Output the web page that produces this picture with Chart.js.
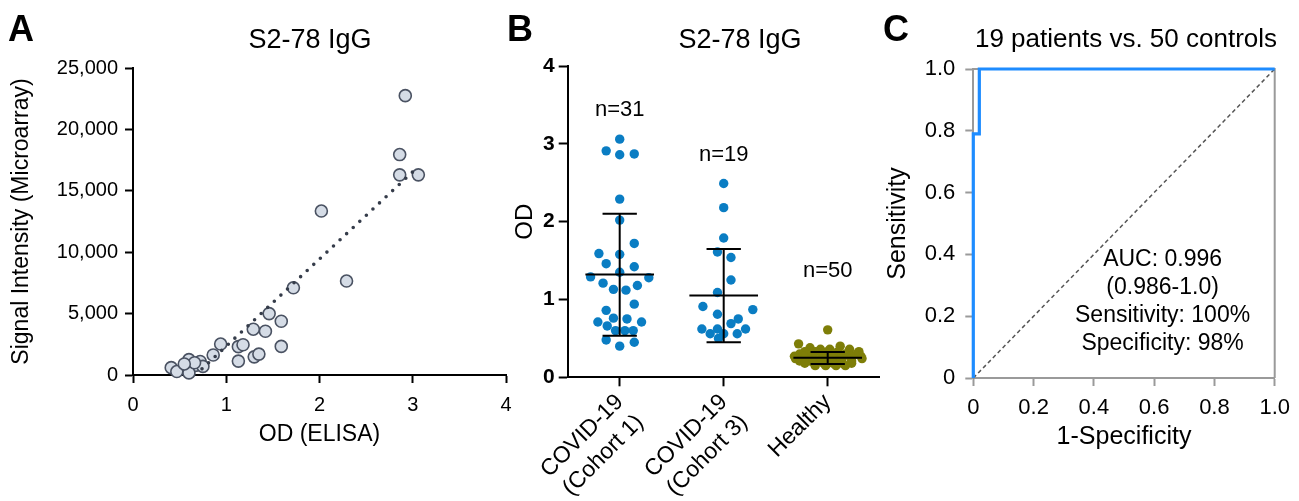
<!DOCTYPE html>
<html>
<head>
<meta charset="utf-8">
<title>S2-78 IgG</title>
<script src="https://cdn.jsdelivr.net/npm/chart.js@4.4.1/dist/chart.umd.min.js"></script>
<style>
  html, body { margin: 0; background: #fff; }
  #wrap { position: relative; width: 1299px; height: 501px; overflow: hidden; }
  #wrap canvas { position: absolute; left: 0; top: 0; }
</style>
</head>
<body>
<div id="wrap">
  <canvas id="panelA" width="1299" height="501"></canvas>
  <canvas id="panelB" width="1299" height="501"></canvas>
  <canvas id="panelC" width="1299" height="501"></canvas>
</div>
<script>
// ---- panel A: microarray vs ELISA ----
let elisaOD = [2.92, 2.86, 2.86, 3.06, 2.02, 2.29, 1.72, 1.46, 1.59, 1.42, 1.29, 1.59, 1.13, 1.18,
  0.94, 0.86, 1.13, 1.30, 1.35, 0.72, 0.60, 0.67, 0.75, 0.41, 0.47, 0.60, 0.66, 0.55];
let microarraySignal = [22750, 17950, 16300, 16300, 13350, 7650, 7100, 5000, 4380, 3560, 3730, 2330, 2310, 2460,
  2520, 1630, 1130, 1480, 1700, 1100, 1250, 780, 700, 600, 280, 170, 1000, 900];
let fitLineOD = [0.74, 3.05];
let fitLineSignal = [500, 16900];

// ---- panel B: OD per group ----
let groupLabels = [["COVID-19", "(Cohort 1)"], ["COVID-19", "(Cohort 3)"], "Healthy"];
let groupCounts = ["n=31", "n=19", "n=50"];
let countLabelY = [3.44, 2.86, 1.37];
let cohort1OD = [3.06, 2.91, 2.86, 2.87, 2.29, 2.02, 1.72, 1.59, 1.58, 1.46, 1.42, 1.29, 1.35, 1.28, 1.21, 1.18,
  1.13, 1.12, 0.94, 0.86, 0.71, 0.76, 0.75, 0.71, 0.66, 0.60, 0.60, 0.60, 0.48, 0.40, 0.45];
let cohort1Jitter = [0, -0.13, 0, 0.14, 0, 0, 0.14, -0.20, 0, -0.13, 0.14, -0.28, 0, 0.28, -0.16, 0.17,
  -0.06, 0.06, 0.14, -0.13, -0.21, -0.06, 0.07, 0.21, -0.12, -0.04, 0.05, 0.13, -0.13, 0, 0.14];
let cohort3OD = [2.49, 2.18, 1.79, 1.61, 1.54, 1.25, 1.09, 0.91, 0.81, 0.87, 0.75, 0.69, 0.62, 0.62, 0.62,
  0.56, 0.56, 0.56, 0.50];
let cohort3Jitter = [0, 0, 0, -0.06, 0.07, 0.07, -0.06, -0.20, -0.06, 0.28, 0.14, 0.07, -0.21, -0.06, 0.21,
  -0.13, 0, 0.13, -0.05];
let healthyOD = [0.61, 0.43, 0.40, 0.38, 0.36, 0.36, 0.36,
  0.33, 0.33, 0.33, 0.33, 0.33,
  0.30, 0.30, 0.30, 0.30, 0.30, 0.30,
  0.27, 0.27, 0.27, 0.27, 0.27, 0.27, 0.27, 0.27,
  0.24, 0.24, 0.24, 0.24, 0.24, 0.24, 0.24, 0.24,
  0.21, 0.21, 0.21, 0.21, 0.21, 0.21,
  0.18, 0.18, 0.18, 0.18, 0.18, 0.18,
  0.15, 0.15, 0.15, 0.15];
let healthyJitter = [0, -0.28, 0.12, -0.17, -0.07, 0.02, 0.21,
  -0.22, -0.12, 0, 0.10, 0.30,
  -0.27, -0.16, -0.05, 0.06, 0.17, 0.28,
  -0.32, -0.23, -0.14, -0.05, 0.04, 0.13, 0.22, 0.32,
  -0.31, -0.22, -0.13, -0.04, 0.05, 0.14, 0.23, 0.33,
  -0.27, -0.17, -0.07, 0.03, 0.13, 0.23,
  -0.22, -0.13, -0.04, 0.05, 0.14, 0.23,
  -0.12, -0.02, 0.08, 0.17];
let groupMean = [1.32, 1.05, 0.25];
let groupSdLow = [0.535, 0.45, 0.17];
let groupSdHigh = [2.10, 1.65, 0.325];

// ---- panel C: ROC ----
let rocFpr = [0, 0, 0.02, 0.02, 1];
let rocTpr = [0, 0.79, 0.79, 1, 1];
let chanceFpr = [0, 1];
let chanceTpr = [0, 1];
let aucText = ["AUC: 0.996", "(0.986-1.0)", "Sensitivity: 100%", "Specificity: 98%"];
let aucAnchor = [0.628, 0.384];

const FONT = '"Liberation Sans", Arial, Helvetica, sans-serif';
Chart.defaults.font.family = FONT;
Chart.defaults.color = '#000';
Chart.defaults.animation = false;
Chart.defaults.plugins.legend.display = false;
Chart.defaults.plugins.tooltip.enabled = false;

function toPoints(xs, ys) {
  return xs.map((x, i) => ({ x: x, y: ys[i] }));
}
function jittered(group, values, jitter) {
  return values.map((v, i) => ({ x: group + jitter[i], y: v }));
}

// panel letter + title
const panelText = {
  id: 'panelText',
  afterDraw(chart, args, opts) {
    let ctx = chart.ctx;
    ctx.save();
    ctx.fillStyle = '#000';
    ctx.textBaseline = 'alphabetic';
    ctx.textAlign = 'left';
    ctx.font = 'bold 36px ' + FONT;
    ctx.fillText(opts.letter, opts.letterX, 41);
    ctx.textAlign = 'center';
    ctx.font = opts.titleSize + 'px ' + FONT;
    ctx.fillText(opts.title, opts.titleX, opts.titleY);
    ctx.restore();
  }
};

// mean +/- SD bars and n labels for panel B
const errorBars = {
  id: 'errorBars',
  afterDatasetsDraw(chart) {
    let ctx = chart.ctx;
    let x = chart.scales.x, y = chart.scales.y;
    ctx.save();
    ctx.strokeStyle = '#000';
    ctx.lineWidth = 2;
    groupMean.forEach((m, i) => {
      let cx = x.getPixelForValue(i);
      let half = x.getPixelForValue(i + 0.33) - cx;
      let cap = x.getPixelForValue(i + 0.165) - cx;
      let ym = y.getPixelForValue(m);
      let yl = y.getPixelForValue(groupSdLow[i]);
      let yh = y.getPixelForValue(groupSdHigh[i]);
      ctx.beginPath();
      ctx.moveTo(cx - half, ym); ctx.lineTo(cx + half, ym);
      ctx.moveTo(cx, yl); ctx.lineTo(cx, yh);
      ctx.moveTo(cx - cap, yl); ctx.lineTo(cx + cap, yl);
      ctx.moveTo(cx - cap, yh); ctx.lineTo(cx + cap, yh);
      ctx.stroke();
    });
    ctx.fillStyle = '#000';
    ctx.font = '22px ' + FONT;
    ctx.textAlign = 'center';
    ctx.textBaseline = 'middle';
    groupCounts.forEach((t, i) => {
      ctx.fillText(t, x.getPixelForValue(i), y.getPixelForValue(countLabelY[i]));
    });
    ctx.restore();
  }
};

// grey frame and AUC text for panel C
const rocExtras = {
  id: 'rocExtras',
  beforeDatasetsDraw(chart) {
    let a = chart.chartArea, ctx = chart.ctx;
    ctx.save();
    ctx.strokeStyle = '#9a9a9a';
    ctx.lineWidth = 2;
    ctx.beginPath();
    ctx.moveTo(a.left, a.top); ctx.lineTo(a.right, a.top); ctx.lineTo(a.right, a.bottom);
    ctx.stroke();
    ctx.restore();
  },
  afterDatasetsDraw(chart) {
    let ctx = chart.ctx;
    let cx = chart.scales.x.getPixelForValue(aucAnchor[0]);
    let cy = chart.scales.y.getPixelForValue(aucAnchor[1]);
    ctx.save();
    ctx.fillStyle = '#000';
    ctx.font = '23px ' + FONT;
    ctx.textAlign = 'center';
    ctx.textBaseline = 'middle';
    aucText.forEach((t, i) => ctx.fillText(t, cx, cy + i * 28));
    ctx.restore();
  }
};

function blackAxis(tickLen) {
  return {
    grid: { drawOnChartArea: false, drawTicks: true, tickLength: tickLen, tickColor: '#000', tickWidth: 2 },
    border: { display: true, color: '#000', width: 2 }
  };
}

// Panel A
new Chart(document.getElementById('panelA'), {
  type: 'scatter',
  data: {
    datasets: [{
      data: toPoints(fitLineOD, fitLineSignal),
      showLine: true,
      pointRadius: 0,
      borderColor: '#353c4a',
      borderWidth: 3.6,
      borderDash: [0, 9],
      borderCapStyle: 'round',
      clip: false
    }, {
      data: toPoints(elisaOD, microarraySignal),
      pointRadius: 6,
      pointBackgroundColor: '#d5dce6',
      pointBorderColor: '#4a5262',
      pointBorderWidth: 1.6,
      clip: false
    }]
  },
  options: {
    responsive: false,
    layout: { padding: { left: 0, top: 68, right: 793, bottom: 53 } },
    scales: {
      x: Object.assign(blackAxis(8), {
        type: 'linear', min: 0, max: 4,
        afterFit(s) { s.height = 73; },
        ticks: { stepSize: 1, font: { size: 20 }, padding: 10, maxRotation: 0 },
        title: { display: true, text: 'OD (ELISA)', font: { size: 23 }, padding: { top: 0, bottom: 0 } }
      }),
      y: Object.assign(blackAxis(8), {
        min: 0, max: 25000,
        afterFit(s) { s.width = 133; },
        ticks: { stepSize: 5000, font: { size: 20 }, padding: 7, callback: v => v.toLocaleString('en-US') },
        title: { display: true, text: 'Signal Intensity (Microarray)', font: { size: 23 }, padding: { top: 8, bottom: 0 } }
      })
    },
    plugins: {
      panelText: { letter: 'A', letterX: 8, title: 'S2-78 IgG', titleX: 310, titleY: 48, titleSize: 27 }
    }
  },
  plugins: [panelText]
});

// Panel B
new Chart(document.getElementById('panelB'), {
  type: 'scatter',
  data: {
    datasets: [{
      data: jittered(0, cohort1OD, cohort1Jitter),
      pointRadius: 4.7, pointBorderWidth: 0, pointBackgroundColor: '#0a7dc3', clip: false
    }, {
      data: jittered(1, cohort3OD, cohort3Jitter),
      pointRadius: 4.7, pointBorderWidth: 0, pointBackgroundColor: '#0a7dc3', clip: false
    }, {
      data: jittered(2, healthyOD, healthyJitter),
      pointRadius: 4.7, pointBorderWidth: 0, pointBackgroundColor: '#7e7e08', clip: false
    }]
  },
  options: {
    responsive: false,
    layout: { padding: { left: 507.7, top: 66, right: 419.3, bottom: 0.7 } },
    scales: {
      x: Object.assign(blackAxis(9), {
        type: 'linear', min: -0.5, max: 2.5,
        afterFit(s) { s.height = 123; },
        afterBuildTicks(s) { s.ticks = groupLabels.map((g, i) => ({ value: i })); },
        ticks: {
          autoSkip: false, minRotation: 45, maxRotation: 45, padding: 2,
          font: { size: 23, lineHeight: 1.25 },
          callback: v => groupLabels[v]
        }
      }),
      y: Object.assign(blackAxis(9), {
        min: 0, max: 4,
        afterFit(s) { s.width = 60; },
        ticks: { stepSize: 1, font: { size: 21, weight: 'bold' }, padding: 4 },
        title: { display: true, text: 'OD', font: { size: 24 }, padding: { top: 3, bottom: 0 } }
      })
    },
    plugins: {
      panelText: { letter: 'B', letterX: 507, title: 'S2-78 IgG', titleX: 740, titleY: 48, titleSize: 27 }
    }
  },
  plugins: [panelText, errorBars]
});

// Panel C
let greyAxis = {
  grid: { drawOnChartArea: false, drawTicks: true, tickLength: 8, tickColor: '#9a9a9a', tickWidth: 2 },
  border: { display: true, color: '#9a9a9a', width: 2 }
};
new Chart(document.getElementById('panelC'), {
  type: 'scatter',
  data: {
    datasets: [{
      data: toPoints(rocFpr, rocTpr),
      showLine: true, pointRadius: 0, borderColor: '#1e8cff', borderWidth: 3.2, clip: false
    }, {
      data: toPoints(chanceFpr, chanceTpr),
      showLine: true, pointRadius: 0, borderColor: '#555', borderWidth: 1.5, borderDash: [4, 3], clip: false
    }]
  },
  options: {
    responsive: false,
    layout: { padding: { left: 882.7, top: 69, right: 16, bottom: 49.3 } },
    scales: {
      x: Object.assign({}, greyAxis, {
        type: 'linear', min: 0, max: 1,
        afterFit(s) { s.height = 73.7; },
        ticks: { stepSize: 0.2, font: { size: 22 }, padding: 9, maxRotation: 0,
          callback: v => (v === 0 ? '0' : v.toFixed(1)) },
        title: { display: true, text: '1-Specificity', font: { size: 25 }, padding: { top: 0, bottom: 0 } }
      }),
      y: Object.assign({}, greyAxis, {
        min: 0, max: 1,
        afterFit(s) { s.width = 90.6; },
        ticks: { stepSize: 0.2, font: { size: 22 }, padding: 10,
          callback: v => (v === 0 ? '0' : v.toFixed(1)) },
        title: { display: true, text: 'Sensitivity', font: { size: 25 }, padding: { top: 0, bottom: 0 } }
      })
    },
    plugins: {
      panelText: { letter: 'C', letterX: 883, title: '19 patients vs. 50 controls', titleX: 1126, titleY: 47, titleSize: 26 }
    }
  },
  plugins: [panelText, rocExtras]
});
</script>
</body>
</html>
